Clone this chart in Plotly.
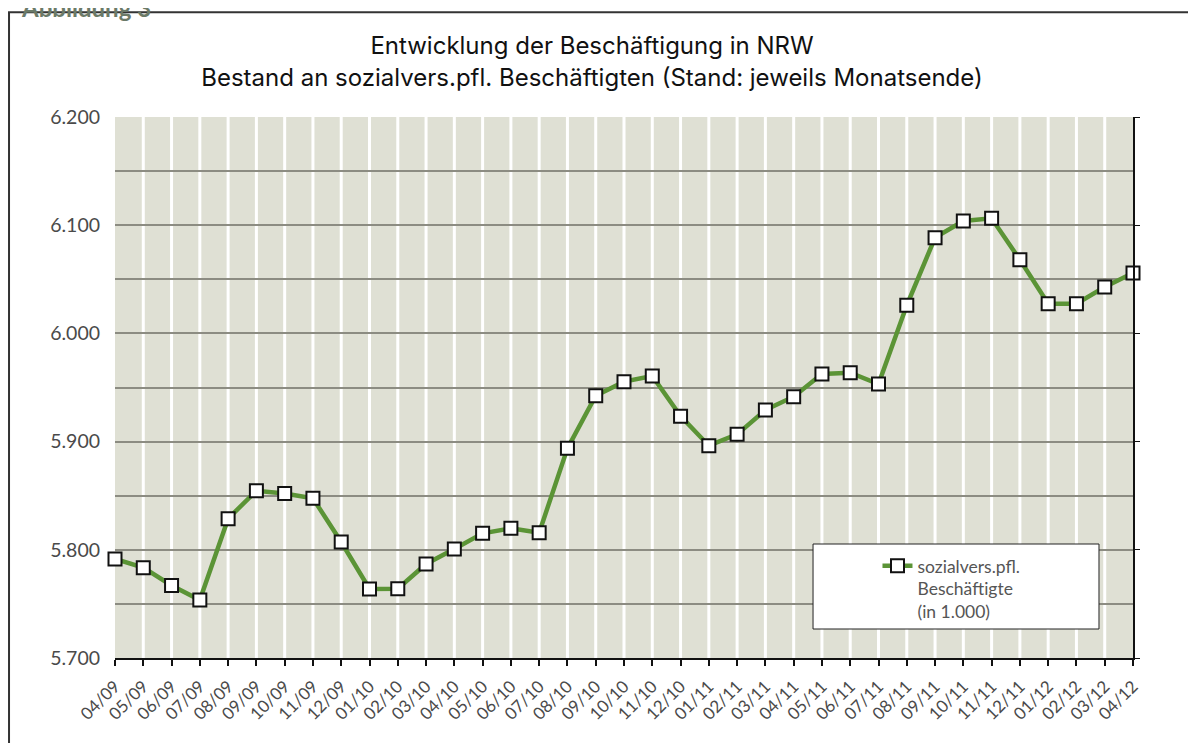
import plotly.graph_objects as go

months = ["04/09", "05/09", "06/09", "07/09", "08/09", "09/09", "10/09", "11/09", "12/09",
          "01/10", "02/10", "03/10", "04/10", "05/10", "06/10", "07/10", "08/10", "09/10",
          "10/10", "11/10", "12/10", "01/11", "02/11", "03/11", "04/11", "05/11", "06/11",
          "07/11", "08/11", "09/11", "10/11", "11/11", "12/11", "01/12", "02/12", "03/12",
          "04/12"]

beschaeftigte = [5791.5, 5783.5, 5767.0, 5753.6, 5828.8, 5854.6, 5852.0, 5847.6, 5807.2,
                 5763.8, 5764.0, 5786.9, 5800.7, 5815.2, 5819.9, 5815.8, 5893.8, 5942.4,
                 5955.4, 5960.6, 5923.5, 5896.2, 5906.7, 5929.2, 5941.5, 5962.5, 5963.7,
                 5953.2, 6026.0, 6088.5, 6103.9, 6106.4, 6068.0, 6027.5, 6027.5, 6042.9,
                 6055.8]

y_range = [5700, 6200]
title_lines = ["Entwicklung der Beschäftigung in NRW",
               "Bestand an sozialvers.pfl. Beschäftigten (Stand: jeweils Monatsende)"]
series_name = "sozialvers.pfl.<br>Beschäftigte<br>(in 1.000)"

FONT = "Lato"
GREEN = "#5b9436"
BG = "#dfe0d4"
GRID = "#8c8c82"

fig = go.Figure()

fig.add_trace(go.Scatter(
    x=months, y=beschaeftigte, mode="lines+markers", name=series_name,
    line=dict(color=GREEN, width=4.5),
    marker=dict(symbol="square", size=13, color="white",
                line=dict(color="#111111", width=2)),
    cliponaxis=False,
))

# invisible helper trace for the right-hand axis
fig.add_trace(go.Scatter(
    x=months, y=beschaeftigte, yaxis="y2", mode="lines",
    line=dict(color="rgba(0,0,0,0)"), showlegend=False, hoverinfo="skip",
))

shapes = []
# white vertical separators between month columns
for m in months[1:-1]:
    shapes.append(dict(type="line", xref="x", yref="paper", x0=m, x1=m, y0=0, y1=1,
                       line=dict(color="white", width=3), layer="between"))
# legend box
shapes.append(dict(type="rect", xref="paper", yref="paper",
                   x0=0.6857, x1=0.9666, y0=0.0536, y1=0.2107,
                   fillcolor="white", line=dict(color="#222222", width=1), layer="above"))
# outer frame
shapes.append(dict(type="rect", xref="paper", yref="paper",
                   x0=-0.1041, x1=1.08, y0=-0.2, y1=1.1935,
                   fillcolor="rgba(0,0,0,0)", line=dict(color="#333333", width=2)))

fig.update_layout(
    width=1188, height=735,
    margin=dict(l=107, r=63, t=109, b=85),
    paper_bgcolor="white", plot_bgcolor=BG,
    separators=",.",
    font=dict(family=FONT, color="#444444"),
    title=dict(text="<br>".join(title_lines), x=0.4916, xanchor="center",
               y=0.937, yanchor="top",
               font=dict(family="Inter", size=24, color="#111111")),
    xaxis=dict(type="category", range=[0, len(months) - 1],
               showgrid=False, showline=True, linecolor="#111111", linewidth=1.5,
               ticks="outside", ticklen=6, tickcolor="#111111", tickwidth=1.5,
               tickangle=-45, ticklabelstandoff=4,
               tickfont=dict(size=17, color="#4a4a4a")),
    yaxis=dict(range=y_range, dtick=100, tickformat=",.0f",
               showgrid=True, gridcolor=GRID, gridwidth=1.5,
               minor=dict(dtick=50, showgrid=True, gridcolor=GRID, gridwidth=1.5),
               showline=False, zeroline=False, ticks="",
               ticklabelstandoff=14,
               tickfont=dict(size=19.5, color="#4a4a4a")),
    yaxis2=dict(range=y_range, dtick=100, overlaying="y", side="right",
                showgrid=False, zeroline=False, showline=True, linecolor="#111111",
                linewidth=1.5, ticks="outside", ticklen=5, tickcolor="#111111",
                showticklabels=False),
    legend=dict(x=0.749, y=0.2035, xanchor="left", yanchor="top",
                bgcolor="rgba(0,0,0,0)", borderwidth=0, valign="top",
                font=dict(size=17.5, color="#555555")),
    shapes=shapes,
    annotations=[dict(text="<b>Abbildung 3</b>", xref="paper", yref="paper",
                      x=0.0373, y=1.172, xanchor="right", yanchor="bottom",
                      showarrow=False, font=dict(family=FONT, size=24, color="#6b7a68"))],
)

fig.write_html("out.html")
